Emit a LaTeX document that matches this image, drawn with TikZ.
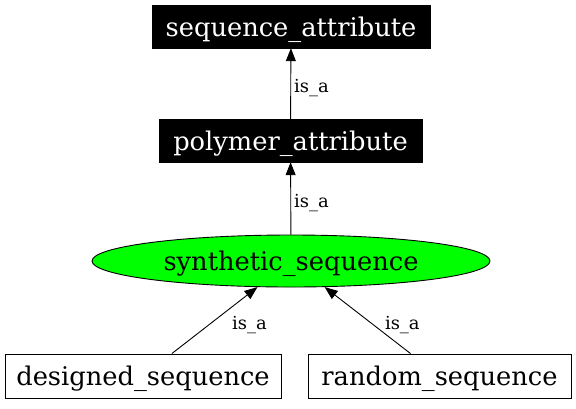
\documentclass[tikz,border=0pt]{standalone}
\usepackage{fontspec}
\setmainfont{DejaVu Serif}
\usepackage{tikz}
\usetikzlibrary{arrows.meta,positioning,shapes.geometric}

\definecolor{termgreen}{RGB}{0,255,0}

\begin{document}
\begin{tikzpicture}[x=1bp, y=-1bp,
		nodefont/.style={font=\fontsize{25.8}{30}\selectfont, text depth=0pt},
		attrbox/.style={nodefont, draw=black, fill=black, text=white, minimum height=43bp, inner sep=0pt},
		termbox/.style={nodefont, draw=black, line width=0.9bp, fill=white, minimum height=44bp, inner sep=0pt},
		termoval/.style={nodefont, ellipse, draw=black, line width=0.9bp, fill=termgreen, minimum width=398bp, minimum height=52bp, inner sep=0pt},
		isa/.style={draw=black, line width=0.9bp, -{Triangle[length=13bp, width=10bp]}},
		lbl/.style={font=\fontsize{18}{20}\selectfont, inner sep=3bp, yshift=-5bp}]
	
	\useasboundingbox (0,0) rectangle (576,408);
	
	% Attribute boxes
	\node[attrbox, minimum width=278bp] (seqattr) at (291, 26.5) {sequence\_attribute};
	\node[attrbox, minimum width=263bp] (polyattr) at (290.5, 140.5) {polymer\_attribute};
	
	% Term being described
	\node[termoval] (synth) at (291, 261) {synthetic\_sequence};
	
	% Child terms
	\node[termbox, minimum width=276bp] (designed) at (143, 376) {designed\_sequence};
	\node[termbox, minimum width=263bp] (random) at (439.5, 376) {random\_sequence};
	
	% is_a relations
	\draw[isa] (polyattr) -- node[lbl, right] (lblA) {is\_a} (seqattr);
	\draw[isa] (synth) -- node[lbl, right] (lblB) {is\_a} (polyattr);
	\draw[isa] (designed) -- node[lbl, right=14bp] (lblC) {is\_a} (synth);
	\draw[isa] (random) -- node[lbl, right=14bp] (lblD) {is\_a} (synth);
	
\end{tikzpicture}
\end{document}
